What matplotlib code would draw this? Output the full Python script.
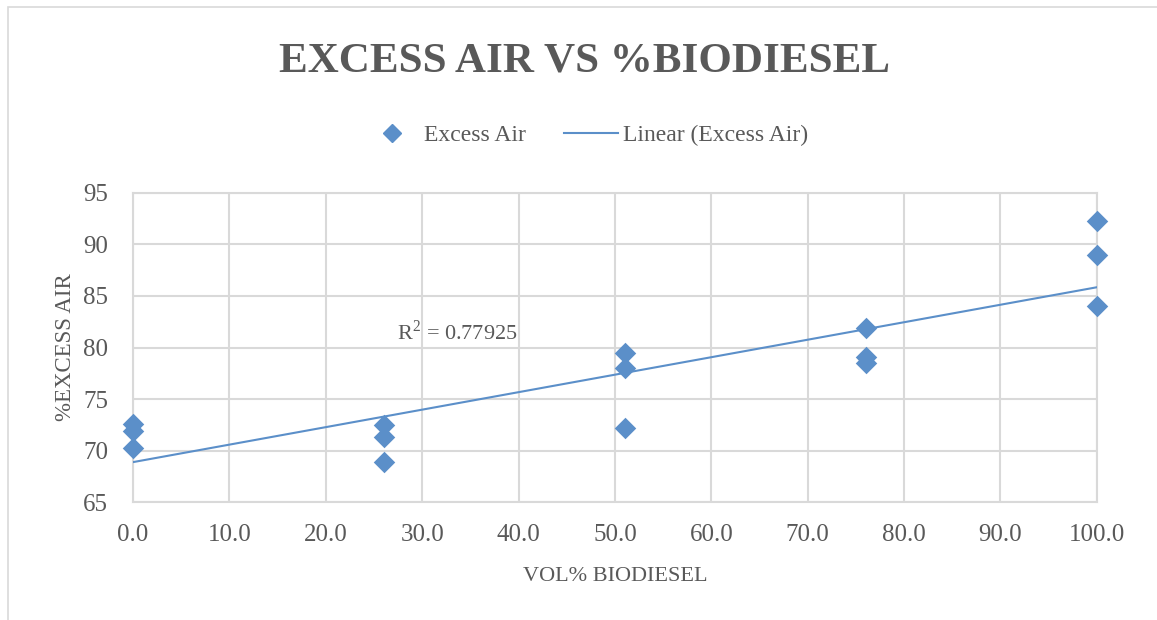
import numpy as np
import matplotlib
matplotlib.use("Agg")
import matplotlib.pyplot as plt
from matplotlib.patches import Rectangle
from matplotlib.lines import Line2D

# data
vol_biodiesel = [0.0, 0.0, 0.0, 26.0, 26.0, 26.0, 51.0, 51.0, 51.0, 76.0, 76.0, 76.0, 100.0, 100.0, 100.0]
excess_air = [72.6, 71.9, 70.3, 72.5, 71.3, 68.9, 79.5, 78.0, 72.2, 81.9, 79.1, 78.5, 92.3, 89.0, 84.0]
x_ticks = [0, 10, 20, 30, 40, 50, 60, 70, 80, 90, 100]
y_ticks = [65, 70, 75, 80, 85, 90, 95]
r2_label = "R$^2$ = 0.77925"
title = "EXCESS AIR VS %BIODIESEL"

blue = "#5B8FC9"
grey_text = "#595959"
grid_col = "#D9D9D9"

plt.rcParams['font.family'] = ['Liberation Serif', 'DejaVu Serif']
plt.rcParams['mathtext.fontset'] = 'custom'
plt.rcParams['mathtext.rm'] = 'Liberation Serif'

fig = plt.figure(figsize=(11.57, 6.2), dpi=100)
fig.patches.append(Rectangle((0.007, -0.01), 0.995, 0.998, transform=fig.transFigure,
                             fill=False, edgecolor=grid_col, linewidth=1.2))
ax = fig.add_axes([0.115, 0.190, 0.833, 0.499])

# linear trend line
coef = np.polyfit(vol_biodiesel, excess_air, 1)
xs = np.array([0, 100])
ax.plot(xs, np.polyval(coef, xs), color=blue, linewidth=1.5, zorder=3)
ax.scatter(vol_biodiesel, excess_air, marker='D', s=120, color=blue, zorder=4,
           linewidths=0, clip_on=False)

ax.set_xlim(0, 100)
ax.set_ylim(65, 95)
ax.set_xticks(x_ticks)
ax.set_xticklabels([f"{v:.1f}" for v in x_ticks])
ax.set_yticks(y_ticks)
ax.grid(True, color=grid_col, linewidth=1.5)
ax.set_axisbelow(True)
for s in ax.spines.values():
    s.set_color(grid_col)
    s.set_linewidth(1.5)
ax.tick_params(length=0, labelsize=18, colors=grey_text)
ax.tick_params(axis='x', pad=16)
ax.tick_params(axis='y', pad=18)

ax.set_xlabel("VOL% BIODIESEL", fontsize=16, color=grey_text, labelpad=15)
ax.set_ylabel("%EXCESS AIR", fontsize=16.5, color=grey_text, labelpad=5)

ax.text(27.4, 81.5, r2_label, fontsize=16, color=grey_text, ha='left', va='center')

fig.text(0.505, 0.900, title, fontsize=31,
         fontweight='bold', color=grey_text, ha='center', va='center')

handles = [Line2D([], [], marker='D', linestyle='none', color=blue, markersize=9),
           Line2D([], [], color=blue, linewidth=1.5)]
fig.legend(handles, ["Excess Air", "Linear (Excess Air)"], loc='center', bbox_to_anchor=(0.507, 0.782),
           ncol=2, frameon=False, fontsize=17, labelcolor=grey_text, handlelength=2.3,
           handletextpad=0.2, columnspacing=1.6)

fig.savefig("out.png", dpi=100)
